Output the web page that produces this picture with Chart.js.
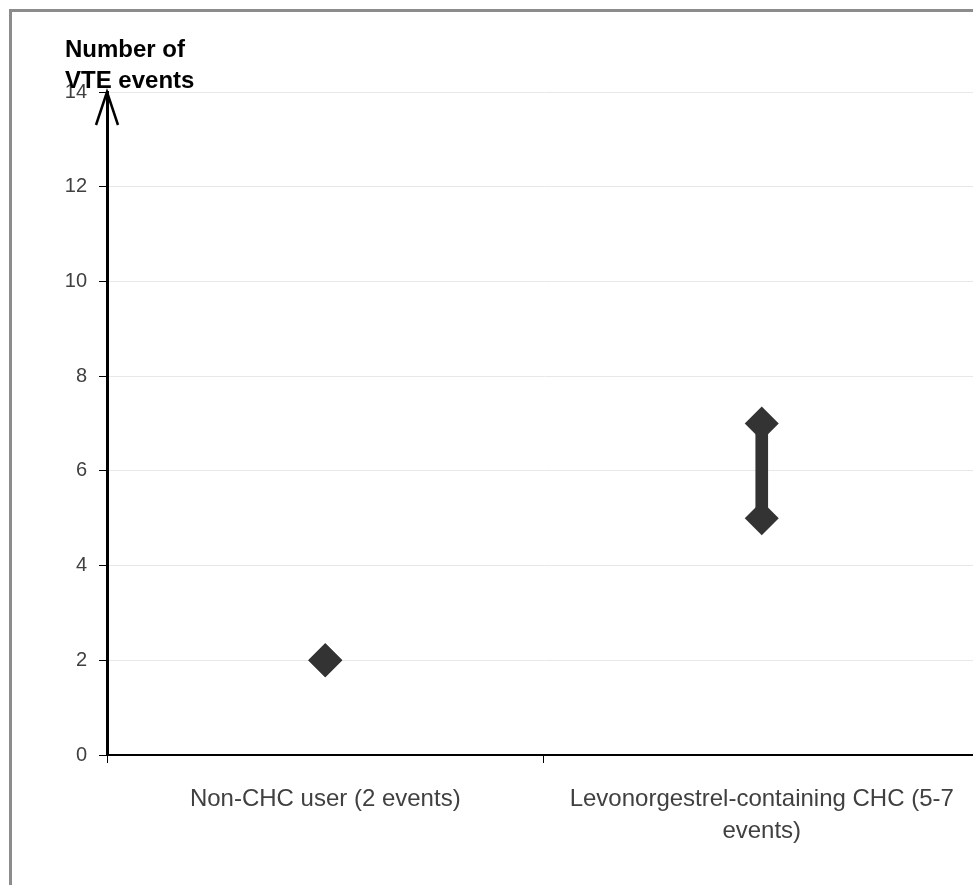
<!DOCTYPE html>
<html>
<head>
<meta charset="utf-8">
<script src="https://cdn.jsdelivr.net/npm/chart.js@4"></script>
<style>
  html, body { margin: 0; padding: 0; background: #fff; overflow: hidden; width: 973px; height: 885px; }
  #frame { position: absolute; left: 9px; top: 9px; width: 1100px; height: 1000px; border: 3px solid #8c8c8c; box-sizing: border-box; }
  #wrap { position: absolute; left: 0; top: 0; width: 990px; height: 885px; }
</style>
</head>
<body>
<div id="frame"></div>
<div id="wrap"><canvas id="c" width="990" height="885" style="width:990px;height:885px"></canvas></div>
<script>
// ---- data ----
const categories = [
  "Non-CHC user (2 events)",
  ["Levonorgestrel-containing CHC (5-7", "events)"]
];
const lowEvents = [2, 5];
const highEvents = [2, 7];
const yTicks = [0, 2, 4, 6, 8, 10, 12, 14];
const axisTitle = ["Number of", "VTE events"];

const rangeData = categories.map((_, i) => [lowEvents[i], highEvents[i]]);

const FONT = "'Liberation Sans', Arial, sans-serif";

const decorPlugin = {
  id: 'decor',
  afterDraw(chart) {
    const ctx = chart.ctx;
    const a = chart.chartArea;
    ctx.save();
    // arrow head on y axis
    ctx.strokeStyle = '#000';
    ctx.lineWidth = 2.5;
    ctx.beginPath();
    ctx.moveTo(a.left - 11, a.top + 33);
    ctx.lineTo(a.left, a.top);
    ctx.lineTo(a.left + 11, a.top + 33);
    ctx.stroke();
    // axis title
    ctx.fillStyle = '#000';
    ctx.font = "bold 24px " + FONT;
    ctx.textAlign = 'left';
    ctx.textBaseline = 'alphabetic';
    ctx.fillText(axisTitle[0], 65, 57);
    ctx.fillText(axisTitle[1], 65, 88);
    ctx.restore();
  }
};

new Chart(document.getElementById('c'), {
  data: {
    labels: categories,
    datasets: [
      { type: 'line', label: 'low', data: lowEvents, showLine: false, pointStyle: 'rectRot', pointRadius: 17, pointBackgroundColor: '#333333', pointBorderWidth: 0, order: 0 },
      { type: 'line', label: 'high', data: highEvents, showLine: false, pointStyle: 'rectRot', pointRadius: 17, pointBackgroundColor: '#333333', pointBorderWidth: 0, order: 0 },
      { type: 'bar', label: 'range', data: rangeData, backgroundColor: '#333333', borderWidth: 0, barThickness: 12, order: 1 }
    ]
  },
  options: {
    responsive: false,
    animation: false,
    devicePixelRatio: 1,
    layout: { autoPadding: false, padding: { top: 92, left: 0, right: 10, bottom: 0 } },
    plugins: { legend: { display: false }, tooltip: { enabled: false }, title: { display: false } },
    scales: {
      x: {
        type: 'category', offset: true,
        afterFit(scale) { scale.height = 130; },
        grid: { offset: true, drawOnChartArea: false, drawTicks: true, tickLength: 8, tickColor: '#000', lineWidth: 1 },
        border: { display: true, color: '#000', width: 2 },
        ticks: { color: '#404040', font: { family: FONT, size: 24, lineHeight: 1.333 }, padding: 20, maxRotation: 0, autoSkip: false }
      },
      y: {
        min: 0, max: 14,
        afterFit(scale) { scale.width = 107; },
        afterBuildTicks(scale) { scale.ticks = yTicks.map(v => ({ value: v })); },
        grid: { color: '#e8e8e8', lineWidth: 1, tickColor: '#000', tickLength: 8 },
        border: { display: true, color: '#000', width: 3 },
        ticks: { color: '#404040', font: { family: FONT, size: 20 }, padding: 12 }
      }
    }
  },
  plugins: [decorPlugin]
});
</script>
</body>
</html>
